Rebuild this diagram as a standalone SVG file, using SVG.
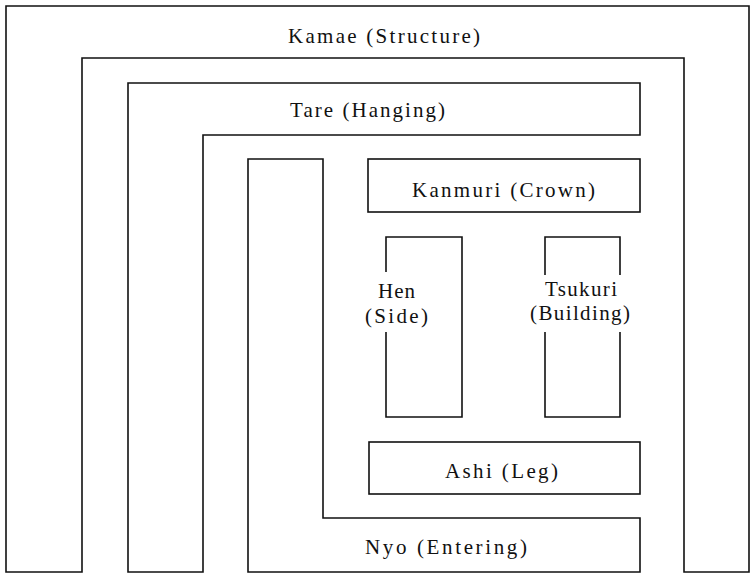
<svg xmlns="http://www.w3.org/2000/svg" width="754" height="574" viewBox="0 0 754 574">
<style>
.s{fill:none;stroke:#111;stroke-width:1.6;stroke-linejoin:miter}
.t{font-family:"Liberation Serif","Times New Roman",serif;font-size:21px;fill:#111}
</style>
<rect width="754" height="574" fill="#fff"/>
<g id="kamae">
<path class="s" d="M6,572 V6 H749 V572 H684 V58 H82 V572 Z"/>
<text class="t" x="288" y="43" textLength="192" lengthAdjust="spacing">Kamae (Structure)</text>
</g>
<g id="tare">
<path class="s" d="M128,572 V83 H640 V135 H203 V572 Z"/>
<text class="t" x="290" y="117" textLength="155" lengthAdjust="spacing">Tare (Hanging)</text>
</g>
<g id="nyo">
<path class="s" d="M248,572 V159 H323 V518 H640 V572 Z"/>
<text class="t" x="365" y="554" textLength="162" lengthAdjust="spacing">Nyo (Entering)</text>
</g>
<g id="kanmuri">
<rect class="s" x="368" y="159" width="272" height="53"/>
<text class="t" x="412" y="197" textLength="183" lengthAdjust="spacing">Kanmuri (Crown)</text>
</g>
<g id="hen">
<path class="s" d="M386,272 V237 H462 V417 H386 V332"/>
<text class="t" x="378" y="298" textLength="37" lengthAdjust="spacing">Hen</text>
<text class="t" x="365" y="323" textLength="63" lengthAdjust="spacing">(Side)</text>
</g>
<g id="tsukuri">
<path class="s" d="M545,275 V237 H620 V275 M620,332 V417 H545 V332"/>
<text class="t" x="545" y="296" textLength="72" lengthAdjust="spacing">Tsukuri</text>
<text class="t" x="530" y="320" textLength="100" lengthAdjust="spacing">(Building)</text>
</g>
<g id="ashi">
<rect class="s" x="369" y="442" width="271" height="52"/>
<text class="t" x="445" y="478" textLength="113" lengthAdjust="spacing">Ashi (Leg)</text>
</g>
<g id="connectors"></g>
</svg>
